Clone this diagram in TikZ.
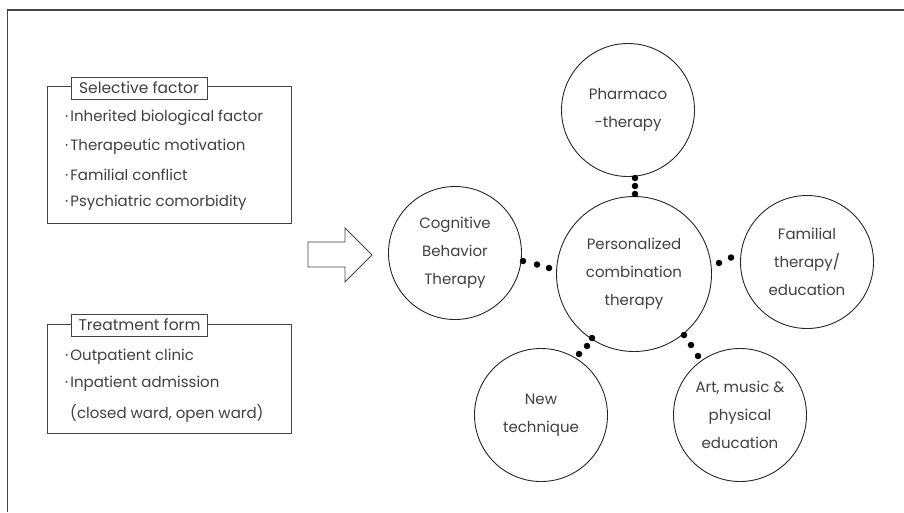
\documentclass[tikz,border=0pt]{standalone}
\usepackage{fontspec}
\setmainfont{Poppins}
\usetikzlibrary{calc}
\definecolor{ink}{HTML}{404040}
\definecolor{edge}{HTML}{444444}
\tikzset{
  frameline/.style={draw=edge, line width=1.5pt},
  panel/.style={draw=edge, line width=1pt, minimum width=244pt, inner sep=0pt},
  titlebox/.style={draw=edge, fill=white, line width=1pt, minimum width=136pt, minimum height=22pt, inner sep=0pt, text=ink, font=\fontsize{15.5}{17}\selectfont},
  item/.style={anchor=west, inner sep=0pt, text=ink, font=\fontsize{15}{17}\selectfont},
  bubble/.style={circle, draw=black!85, line width=0.9pt, minimum size=133pt, inner sep=0pt, align=center, text=ink, font=\fontsize{15}{28}\selectfont},
  hub/.style={bubble, minimum size=155pt},
  dot/.style={circle, fill=black, inner sep=0pt, minimum size=6.5pt},
  bigarrow/.style={draw=edge, line width=0.8pt, fill=white}
}
\begin{document}
\begin{tikzpicture}[x=1pt,y=-1pt]
\useasboundingbox (0,0) rectangle (904,512);
% outer frame
\coordinate (fr) at (904,10);
\coordinate (fc) at (7.5,10);
\coordinate (fb) at (7.5,512);
\draw[frameline] (fr) -- (fc) -- (fb);

% selective factor panel
\node[panel, minimum height=137pt] (sel) at (169,154.5) {};
\node[titlebox] (selt) at (139,88) {Selective factor};
\node[item] (s1) at (65,118) {·\hspace{2pt}Inherited biological factor};
\node[item] (s2) at (65,147) {·\hspace{2pt}Therapeutic motivation};
\node[item] (s3) at (65,175) {·\hspace{2pt}Familial conflict};
\node[item] (s4) at (65,203) {·\hspace{2pt}Psychiatric comorbidity};

% treatment form panel
\node[panel, minimum height=109pt] (trt) at (169,378.5) {};
\node[titlebox] (trtt) at (139.5,325) {Treatment form};
\node[item] (t1) at (65,357) {·\hspace{2pt}Outpatient clinic};
\node[item] (t2) at (65,384) {·\hspace{2pt}Inpatient admission};
\node[item] (t3) at (70,413) {(closed ward, open ward)};

% big arrow
\coordinate (a1) at (308,242);
\coordinate (a2) at (345,242);
\coordinate (a3) at (345,228);
\coordinate (a4) at (372,255);
\coordinate (a5) at (345,282);
\coordinate (a6) at (345,267);
\coordinate (a7) at (308,267);
\draw[bigarrow] (a1) -- (a2) -- (a3) -- (a4) -- (a5) -- (a6) -- (a7) -- cycle;

% circles
\node[hub] (hub) at (634,274) {Personalized\\combination\\therapy};
\node[bubble] (ph) at (628,110) {Pharmaco\\-therapy};
\node[bubble] (cbt) at (455,253) {Cognitive\\Behavior\\Therapy};
\node[bubble] (fam) at (807,262) {Familial\\therapy/\\education};
\node[bubble] (new) at (541,415) {New\\technique};
\node[bubble] (art) at (740,415) {Art, music \&\\physical\\education};

% dotted links
\node[dot] (d1) at (635,178) {};
\node[dot] (d2) at (635,186) {};
\node[dot] (d3) at (635,194) {};
\node[dot] (d4) at (523,261) {};
\node[dot] (d5) at (537,264.5) {};
\node[dot] (d6) at (549,268) {};
\node[dot] (d7) at (719,263) {};
\node[dot] (d8) at (731,257.5) {};
\node[dot] (d9) at (592,338) {};
\node[dot] (d10) at (587,346) {};
\node[dot] (d11) at (579,354) {};
\node[dot] (d12) at (684,335) {};
\node[dot] (d13) at (691,345) {};
\node[dot] (d14) at (698,356) {};
\end{tikzpicture}
\end{document}
